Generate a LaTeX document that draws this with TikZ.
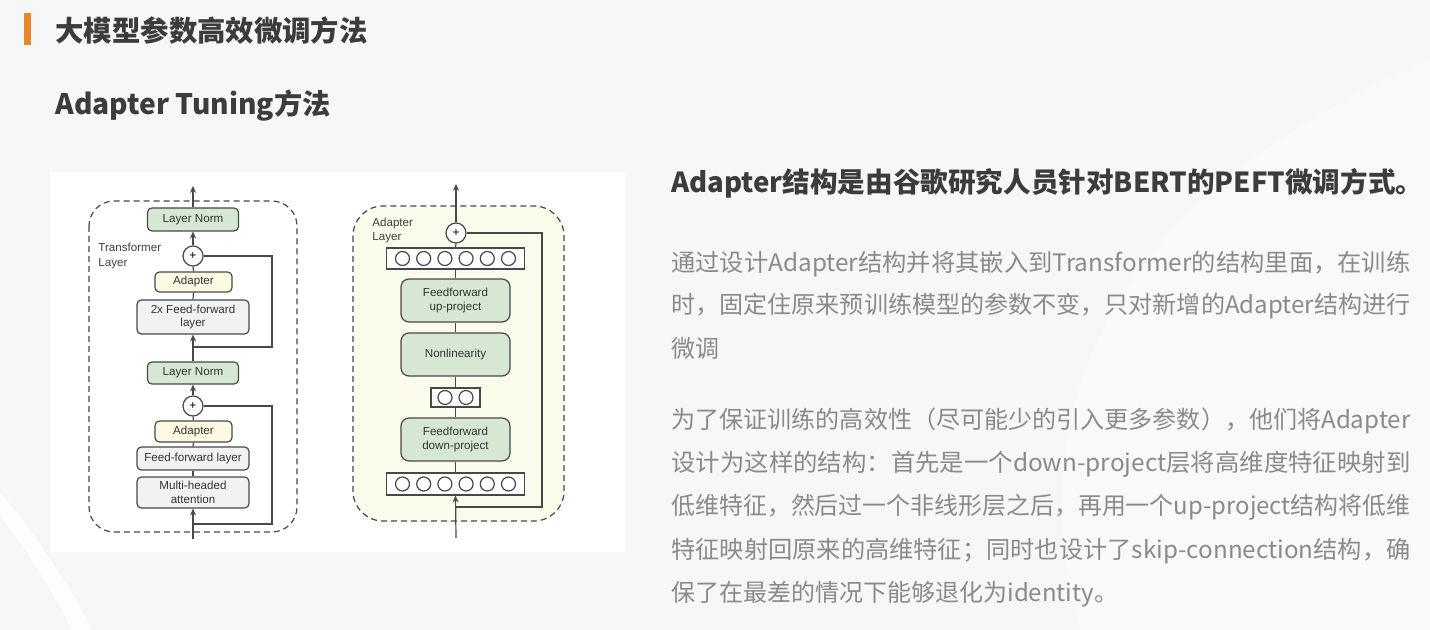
\documentclass[tikz,border=0pt]{standalone}
\usepackage{graphicx}
\usepackage{fontspec}
\setmainfont{Liberation Sans}
\newfontfamily\cjk{Noto Sans CJK SC}
\usetikzlibrary{arrows.meta}
\definecolor{bgc}{HTML}{F6F7F8}
\definecolor{orangebar}{HTML}{E8862A}
\definecolor{headc}{HTML}{3C3C3C}
\definecolor{bodyc}{HTML}{8A8A8A}
\definecolor{lnc}{HTML}{484848}
\definecolor{greenf}{HTML}{D6E8D3}
\definecolor{yellowf}{HTML}{FCFAE3}
\definecolor{grayf}{HTML}{F2F2F2}
\definecolor{panelf}{HTML}{FAFBEA}
\newcommand{\fitline}[1]{\resizebox{369.5pt}{\height}{#1}}
\tikzset{
  box/.style={draw=lnc, line width=0.6pt, rounded corners=2.2pt, inner sep=0pt, align=center,
    font=\fontsize{5.8}{6.8}\selectfont, text=black!80},
  gbox/.style={box, fill=greenf},
  ybox/.style={box, fill=yellowf},
  wbox/.style={box, fill=grayf},
  rgbox/.style={box, fill=greenf, rounded corners=4pt},
  sumnode/.style={circle, draw=lnc, fill=white, line width=0.6pt, minimum size=10pt, inner sep=0pt,
    font=\fontsize{6}{6}\selectfont},
  bar/.style={draw=lnc, fill=white, line width=0.6pt, inner sep=0pt},
  neuron/.style={circle, draw=lnc, fill=white, line width=0.6pt, minimum size=7pt, inner sep=0pt},
  conn/.style={draw=lnc, line width=0.6pt},
  arr/.style={conn, -{Stealth[length=3.4pt,width=3pt]}},
  frame/.style={draw=lnc, dash pattern=on 3pt off 2pt, line width=0.6pt},
  lbl/.style={anchor=west, inner sep=0pt, align=left, font=\fontsize{5.8}{7.2}\selectfont, text=black!75},
  body/.style={anchor=west, inner sep=0pt, text=bodyc, font=\cjk\fontsize{12}{14}\selectfont},
}
\begin{document}
\begin{tikzpicture}[x=0.5pt,y=-0.5pt]
\useasboundingbox (0,0) rectangle (1430,630);
% background
\fill[bgc] (0,0) rectangle (1430,630);
\fill[white, opacity=0.8] (0,515) .. controls (30,555) and (55,595) .. (72,630) -- (92,630)
  .. controls (72,590) and (40,540) .. (0,492) -- cycle;
\fill[white, opacity=0.35] (1430,60) .. controls (1100,200) and (1020,420) .. (1080,630) -- (1430,630) -- cycle;

% header
\fill[orangebar] (24,13) rectangle (31,45);
\node[anchor=west, inner sep=0pt, text=headc, font=\cjk\bfseries\fontsize{14.2}{16}\selectfont] (h1) at (55,31) {大模型参数高效微调方法};
\node[anchor=west, inner sep=0pt, text=headc, font=\cjk\bfseries\fontsize{14.1}{15}\selectfont] (h2) at (55,106) {Adapter Tuning方法};

% panel
\fill[white] (50,172) rectangle (626,552);

% ---------- left diagram ----------
\draw[frame, rounded corners=12.5pt] (89,201) rectangle (297,532);
\node[lbl] (tl) at (98,256) {Transformer\\Layer};
\node[gbox, minimum width=45.5pt, minimum height=11.5pt] (ln1) at (193,219.5) {Layer Norm};
\node[sumnode] (s1) at (193,256) {+};
\node[ybox, minimum width=38.5pt, minimum height=10pt] (ad1) at (193.5,282) {Adapter};
\node[wbox, minimum width=56pt, minimum height=17pt] (ff2) at (193,317) {2x Feed-forward\\layer};
\node[gbox, minimum width=45.5pt, minimum height=11pt] (ln2) at (193,373) {Layer Norm};
\node[sumnode] (s2) at (193,406) {+};
\node[ybox, minimum width=38.5pt, minimum height=10.5pt] (ad2) at (193.5,431.5) {Adapter};
\node[wbox, minimum width=56pt, minimum height=11.5pt] (ff1) at (193,458.5) {Feed-forward layer};
\node[wbox, minimum width=56pt, minimum height=15.5pt] (mha) at (193,492.5) {Multi-headed\\attention};
\coordinate (ltop) at (193,186);
\coordinate (lbot) at (193,539);
\coordinate (lj1) at (193,347);
\coordinate (lj2) at (193,524);
\draw[arr] (lbot) -- (mha.south);
\draw[conn] (mha.north) -- (ff1.south);
\draw[conn] (ff1.north) -- (ad2.south);
\draw[conn] (ad2.north) -- (s2.south);
\draw[arr] (s2.north) -- (ln2.south);
\draw[arr] (ln2.north) -- (ff2.south);
\draw[conn] (ff2.north) -- (ad1.south);
\draw[conn] (ad1.north) -- (s1.south);
\draw[arr] (s1.north) -- (ln1.south);
\draw[arr] (ln1.north) -- (ltop);
\draw[conn] (s1.east) -- (272,256) -- (272,347) -- (lj1);
\draw[conn] (s2.east) -- (272,406) -- (272,524) -- (lj2);

% ---------- right diagram ----------
\draw[frame, fill=panelf, rounded corners=15pt] (353,206) rectangle (564,521);
\node[lbl] (al) at (372,230.5) {Adapter\\Layer};
\node[sumnode] (rs) at (456,233) {+};
\node[bar, minimum width=69pt, minimum height=10.5pt] (tb) at (455.5,258.5) {};
\node[rgbox, minimum width=54.5pt, minimum height=21.5pt] (up) at (455.5,300.5) {Feedforward\\up-project};
\node[rgbox, minimum width=54.5pt, minimum height=21.5pt] (nl) at (455.5,354.5) {Nonlinearity};
\node[bar, minimum width=24.5pt, minimum height=9.5pt] (sb) at (455.5,397.5) {};
\node[rgbox, minimum width=54.5pt, minimum height=21.5pt] (dn) at (455.5,439.5) {Feedforward\\down-project};
\node[bar, minimum width=69pt, minimum height=11pt] (bb) at (455.5,484) {};
\foreach \i/\xx in {1/402.5,2/423.7,3/444.9,4/466.1,5/487.3,6/508.5}{
  \node[neuron] (tn\i) at (\xx,258.5) {};
  \node[neuron] (bn\i) at (\xx,484) {};
}
\node[neuron] (sn1) at (445,397.5) {};
\node[neuron] (sn2) at (466,397.5) {};
\coordinate (rtop) at (456,184);
\coordinate (rbot) at (456,538);
\coordinate (rj) at (456,507);
\draw[arr] (rbot) -- (bb.south);
\draw[conn] (bb.north) -- (dn.south);
\draw[conn] (dn.north) -- (sb.south);
\draw[conn] (sb.north) -- (nl.south);
\draw[conn] (nl.north) -- (up.south);
\draw[conn] (up.north) -- (tb.south);
\draw[conn] (tb.north) -- (rs.south);
\draw[arr] (rs.north) -- (rtop);
\draw[conn] (rs.east) -- (542,233) -- (542,507) -- (rj);

% ---------- right text ----------
\node[anchor=west, inner sep=0pt, text=headc, font=\cjk\bfseries\fontsize{13.8}{16}\selectfont] (t0) at (671,183)
  {Adapter结构是由谷歌研究人员针对BERT的PEFT微调方式。};
\node[body] (p1) at (671,264) {\fitline{通过设计Adapter结构并将其嵌入到Transformer的结构里面，在训练}};
\node[body] (p2) at (671,306) {\fitline{时，固定住原来预训练模型的参数不变，只对新增的Adapter结构进行}};
\node[body] (p3) at (671,348) {微调};
\node[body] (q1) at (671,421) {\fitline{为了保证训练的高效性（尽可能少的引入更多参数），他们将Adapter}};
\node[body] (q2) at (671,464) {\fitline{设计为这样的结构：首先是一个down-project层将高维度特征映射到}};
\node[body] (q3) at (671,507) {\fitline{低维特征，然后过一个非线形层之后，再用一个up-project结构将低维}};
\node[body] (q4) at (671,551) {\fitline{特征映射回原来的高维特征；同时也设计了skip-connection结构，确}};
\node[body] (q5) at (671,594) {保了在最差的情况下能够退化为identity。};
\end{tikzpicture}
\end{document}
